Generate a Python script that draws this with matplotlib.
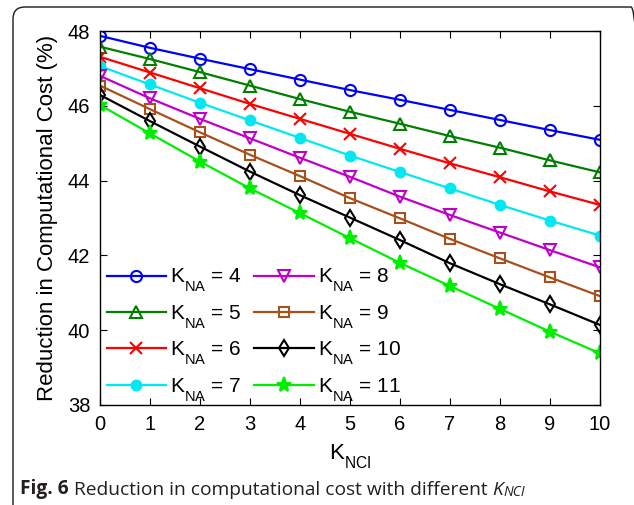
import numpy as np
import matplotlib
matplotlib.use('Agg')
import matplotlib.pyplot as plt
import matplotlib._mathtext as mtext
from matplotlib.patches import FancyBboxPatch
from matplotlib.transforms import IdentityTransform

plt.rcParams['font.family'] = ['Liberation Sans', 'DejaVu Sans']
# deeper subscripts, like the MATLAB figure
mtext.FontConstantsBase.sub1 = 0.8

#%% data
K_NCI = [0, 1, 2, 3, 4, 5, 6, 7, 8, 9, 10]
K_NA = [4, 5, 6, 7, 8, 9, 10, 11]

RED_4 = [47.87, 47.55, 47.26, 46.98, 46.70, 46.42, 46.16, 45.89, 45.62, 45.35, 45.09]
RED_5 = [47.58, 47.25, 46.90, 46.54, 46.18, 45.84, 45.52, 45.19, 44.88, 44.54, 44.22]
RED_6 = [47.31, 46.89, 46.47, 46.05, 45.65, 45.25, 44.85, 44.46, 44.09, 43.71, 43.35]
RED_7 = [47.06, 46.57, 46.08, 45.61, 45.14, 44.67, 44.23, 43.79, 43.35, 42.93, 42.53]
RED_8 = [46.80, 46.20, 45.65, 45.13, 44.61, 44.10, 43.57, 43.08, 42.61, 42.14, 41.68]
RED_9 = [46.54, 45.91, 45.29, 44.69, 44.12, 43.53, 42.99, 42.44, 41.92, 41.41, 40.91]
RED_10 = [46.29, 45.59, 44.91, 44.24, 43.61, 43.01, 42.41, 41.79, 41.23, 40.69, 40.14]
RED_11 = [46.02, 45.26, 44.51, 43.79, 43.13, 42.46, 41.80, 41.18, 40.57, 39.96, 39.38]

SERIES = [RED_4, RED_5, RED_6, RED_7, RED_8, RED_9, RED_10, RED_11]

COLORS = ['#0000ff', '#007f00', '#ff0000', '#00e8f0', '#c000c8', '#a8501c', '#000000', '#00ee00']
MARKERS = ['o', '^', 'x', 'o', 'v', 's', 'd', '*']
FILLED = [False, False, False, True, False, False, False, True]
MSIZE = [8, 8, 9, 7, 8, 7, 8, 11]

#%%
fig = plt.figure(figsize=(6.34, 5.05), dpi=100)
ax = fig.add_axes([100/634, 1-405/505, 500/634, 374/505])

for vals, k, c, m, f, ms in zip(SERIES, K_NA, COLORS, MARKERS, FILLED, MSIZE):
    ax.plot(K_NCI, vals, color=c, marker=m, lw=1.6, ms=ms, mew=1.5,
            mfc=c if f else 'none', mec=c,
            label=r'K$_{\mathregular{NA}}$ = %d' % k)

ax.set_xlim(0, 10)
ax.set_ylim(38, 48)
ax.set_xticks(K_NCI)
ax.set_yticks([38, 40, 42, 44, 46, 48])
ax.tick_params(direction='in', top=True, right=True, labelsize=14.5, length=5, width=0.8, pad=7)
for s in ax.spines.values():
    s.set_linewidth(1.0)

ax.set_ylabel('Reduction in Computational Cost (%)', fontsize=16, labelpad=7)
ax.set_xlabel(r'K$_{\mathregular{NCI}}$', fontsize=16, labelpad=6)

ax.legend(ncol=2, loc='lower left', bbox_to_anchor=(-0.016, -0.035), frameon=False,
          fontsize=15, handlelength=2.85, handletextpad=0.2, columnspacing=0.6,
          labelspacing=0.42, borderaxespad=0.3)

# caption under the chart, pieces chained one after another
CAP_KW = dict(fontsize=13.8, family='Open Sans', color='#231f20', ha='left')
cap = fig.text(20/634, 1-494/505, 'Fig. 6', fontweight='bold', va='baseline', **CAP_KW)
cap = ax.annotate(' Reduction in computational cost with different ', xy=(1, 0),
                  xycoords=cap, va='bottom', **CAP_KW)
cap = ax.annotate('K', xy=(1, 0), xycoords=cap, va='bottom', style='italic', **CAP_KW)
CAP_KW['fontsize'] = 10
ax.annotate('NCI', xy=(1, 0), xycoords=cap, xytext=(0, -1), textcoords='offset points',
            va='bottom', style='italic', **CAP_KW)

# rounded frame around the figure
frame = FancyBboxPatch((13, -40), 630, 498 + 40, boxstyle='round,pad=0,rounding_size=12',
                       transform=IdentityTransform(), fill=False, ec='#1a1a1a', lw=1.0)
fig.patches.append(frame)

fig.savefig('out.png', dpi=100)
